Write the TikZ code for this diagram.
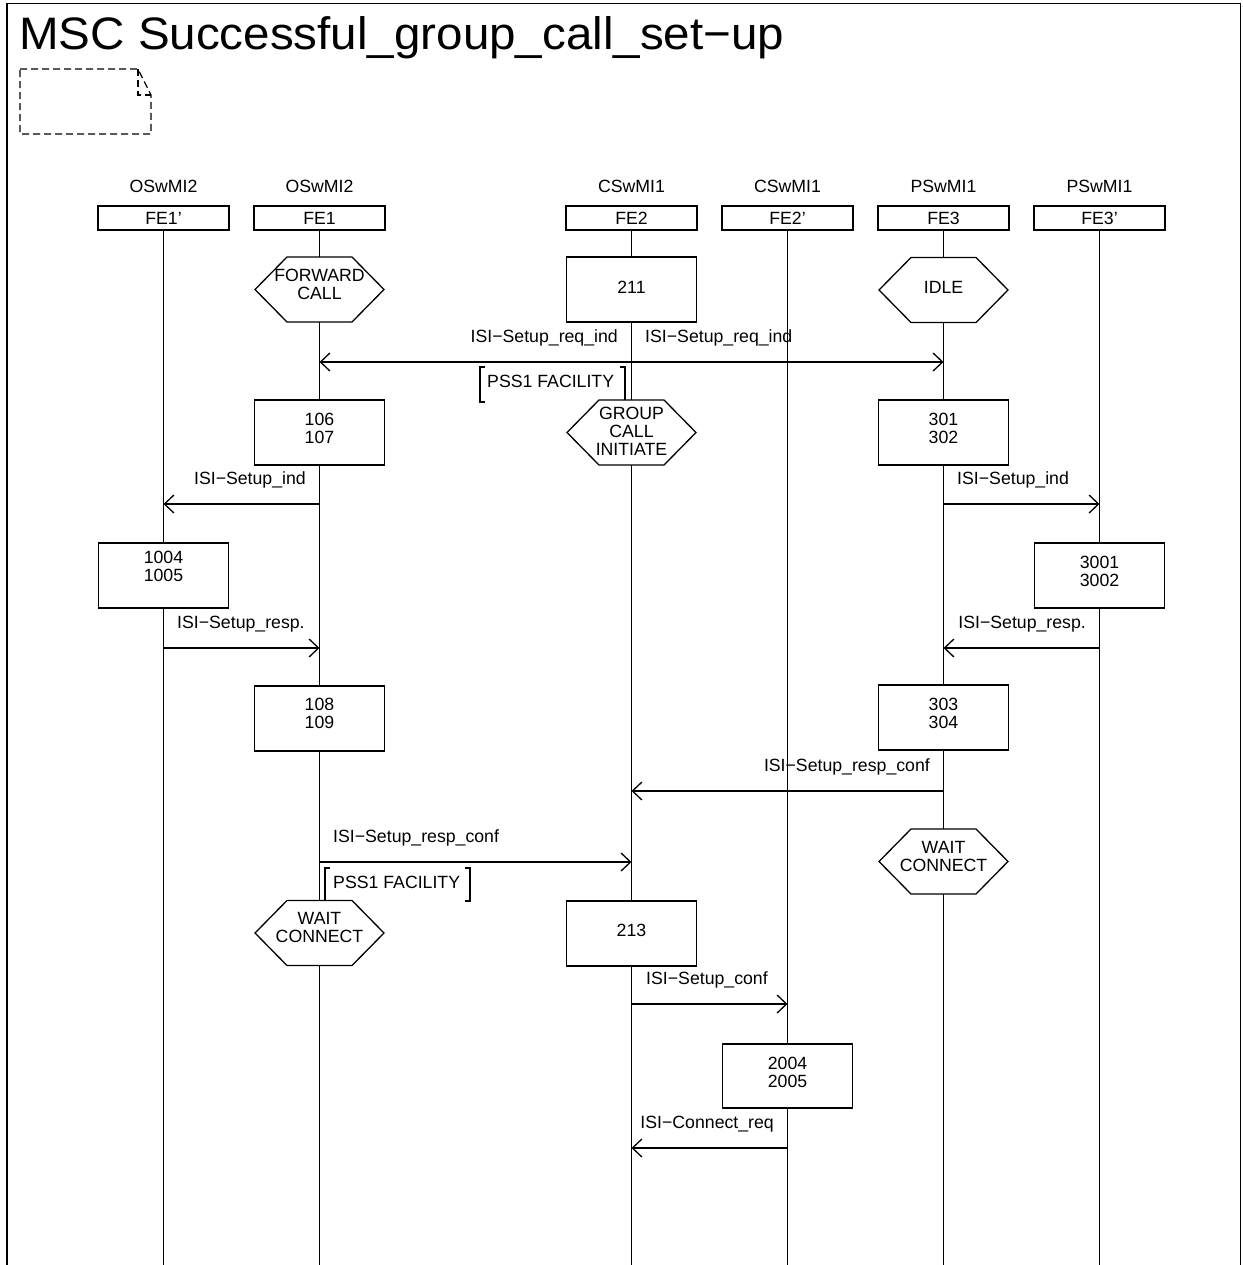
\documentclass[tikz,border=0pt]{standalone}
\usepackage{fontspec}
\setmainfont{Liberation Sans}
\usepackage{graphicx}
\usetikzlibrary{arrows.meta}
\tikzset{
  lw/.style={line width=1.3pt},
  txt/.style={font=\fontsize{17.7}{18}\selectfont, inner sep=0pt, align=center},
  febox/.style={draw, lw, fill=white, minimum width=131pt, minimum height=24pt, inner sep=0pt},
  actbox/.style={draw, lw, fill=white, minimum width=130pt, minimum height=65pt, inner sep=0pt},
  msg/.style={lw, -{Straight Barb[length=9.5pt,width=18pt]}},
  life/.style={lw},
  notebox/.style={lw, dash pattern=on 7pt off 4pt},
}
% hexagon condition: name, x, y centre, text, text centre y
\newcommand\mschex[5]{%
  \path[draw, lw, fill=white] (#2-64.5,#3) -- (#2-32.5,#3-32.5) -- (#2+32.5,#3-32.5)
     -- (#2+64.5,#3) -- (#2+32.5,#3+32.5) -- (#2-32.5,#3+32.5) -- cycle;
  \node[txt] (#1) at (#2,#5) {#4};
}
\begin{document}
\begin{tikzpicture}[x=1pt, y=-1pt]
\useasboundingbox (0,0) rectangle (1242,1265);
% frame
\draw[lw] (7,1265) -- (7,3.3) -- (1240.5,3.3) -- (1240.5,1265);
\node[anchor=base west, inner sep=0pt] (title) at (19,50)
  {\scalebox{1.045}[1]{\fontsize{45.5}{50}\selectfont MSC Successful\_group\_call\_set−up}};
% note symbol
\draw[notebox] (20,69) -- (138,69) -- (151,95) -- (151,134) -- (20,134) -- cycle;
\draw[notebox] (138,69) -- (138,95) -- (151,95);

% instance heads
\node[txt] (h1) at (163.5,186) {OSwMI2};
\node[txt] (h2) at (319.5,186) {OSwMI2};
\node[txt] (h3) at (631.5,186) {CSwMI1};
\node[txt] (h4) at (787.5,186) {CSwMI1};
\node[txt] (h5) at (943.5,186) {PSwMI1};
\node[txt] (h6) at (1099.5,186) {PSwMI1};
\node[febox,txt] (fe1p) at (163.5,218) {FE1’};
\node[febox,txt] (fe1) at (319.5,218) {FE1};
\node[febox,txt] (fe2) at (631.5,218) {FE2};
\node[febox,txt] (fe2p) at (787.5,218) {FE2’};
\node[febox,txt] (fe3) at (943.5,218) {FE3};
\node[febox,txt] (fe3p) at (1099.5,218) {FE3’};

% lifelines
\coordinate (bot) at (0,1265);
\foreach \n in {fe1p,fe1,fe2,fe2p,fe3,fe3p}{
  \draw[life] (\n.south) -- (\n.south |- bot);
}

% states and tasks
\mschex{s1}{319.5}{289.5}{FORWARD\\CALL}{284.5}
\node[actbox] (b211) at (631.5,289.5) {};
\node[txt] (t211) at (631.5,287) {211};
\mschex{s2}{943.5}{290}{IDLE}{287}

\node[actbox] (b106) at (319.5,432.5) {};
\node[txt] (t106) at (319.5,428) {106\\107};
\mschex{s3}{631.5}{432.5}{GROUP\\CALL\\INITIATE}{431}
\node[actbox] (b301) at (943.5,432.5) {};
\node[txt] (t301) at (943.5,428) {301\\302};

\node[actbox] (b1004) at (163.5,575.5) {};
\node[txt] (t1004) at (163.5,566) {1004\\1005};
\node[actbox] (b3001) at (1099.5,575.5) {};
\node[txt] (t3001) at (1099.5,571) {3001\\3002};

\node[actbox] (b108) at (319.5,718.5) {};
\node[txt] (t108) at (319.5,713.5) {108\\109};
\node[actbox] (b303) at (943.5,717.5) {};
\node[txt] (t303) at (943.5,713) {303\\304};

\mschex{s4}{943.5}{861.5}{WAIT\\CONNECT}{856}
\mschex{s5}{319.5}{933}{WAIT\\CONNECT}{927.5}
\node[actbox] (b213) at (631.5,933.5) {};
\node[txt] (t213) at (631.5,930) {213};

\node[actbox, minimum height=64pt] (b2004) at (787.5,1076) {};
\node[txt] (t2004) at (787.5,1072) {2004\\2005};

% messages
\coordinate (m1) at (0,362);
\coordinate (m3) at (0,504);
\coordinate (m5) at (0,648);
\coordinate (m7) at (0,791);
\coordinate (m8) at (0,862);
\coordinate (m9) at (0,1004);
\coordinate (m10) at (0,1148);

\draw[msg] (fe2 |- m1) -- (fe1 |- m1);
\node[txt, anchor=base east] (l1) at (618,342) {ISI−Setup\_req\_ind};
\draw[msg] (fe2 |- m1) -- (fe3 |- m1);
\node[txt, anchor=base west] (l2) at (645,342) {ISI−Setup\_req\_ind};

\draw[msg] (fe1 |- m3) -- (fe1p |- m3);
\node[txt, anchor=base east] (l3) at (306,484) {ISI−Setup\_ind};
\draw[msg] (fe3 |- m3) -- (fe3p |- m3);
\node[txt, anchor=base west] (l4) at (957,484) {ISI−Setup\_ind};

\draw[msg] (fe1p |- m5) -- (fe1 |- m5);
\node[txt, anchor=base west] (l5) at (177,628) {ISI−Setup\_resp.};
\draw[msg] (fe3p |- m5) -- (fe3 |- m5);
\node[txt, anchor=base east] (l6) at (1086,628) {ISI−Setup\_resp.};

\draw[msg] (fe3 |- m7) -- (fe2 |- m7);
\node[txt, anchor=base east] (l7) at (930,771) {ISI−Setup\_resp\_conf};

\draw[msg] (fe1 |- m8) -- (fe2 |- m8);
\node[txt, anchor=base west] (l8) at (333,842) {ISI−Setup\_resp\_conf};

\draw[msg] (fe2 |- m9) -- (fe2p |- m9);
\node[txt, anchor=base west] (l9) at (646,984) {ISI−Setup\_conf};

\draw[msg] (fe2p |- m10) -- (fe2 |- m10);
\node[txt, anchor=base east] (l10) at (774,1128) {ISI−Connect\_req};

% comments (PSS1 FACILITY)
\draw[lw] (485,367) -- (480,367) -- (480,402) -- (485,402);
\node[txt, anchor=base west] (c1) at (487,387) {PSS1 FACILITY};
\draw[lw] (620,367) -- (625,367) -- (625,400);

\draw[lw] (330,868) -- (325,868) -- (325,900);
\node[txt, anchor=base west] (c2) at (333,888) {PSS1 FACILITY};
\draw[lw] (465,868) -- (470,868) -- (470,901) -- (465,901);
\end{tikzpicture}
\end{document}
